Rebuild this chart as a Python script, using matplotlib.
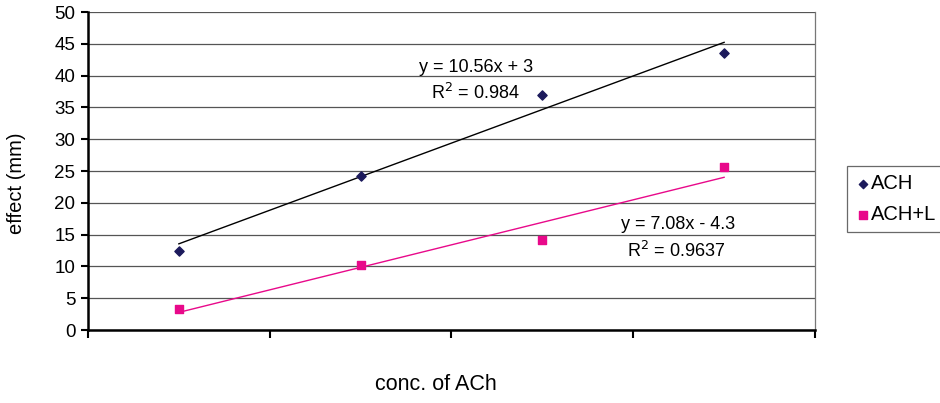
import numpy as np
import matplotlib
matplotlib.use("Agg")
import matplotlib.pyplot as plt

plt.rcParams["font.family"] = ["Liberation Sans", "DejaVu Sans"]

# data
conc = [1, 2, 3, 4]
ach = [12.5, 24.3, 37.0, 43.5]
ach_l = [3.3, 10.2, 14.2, 25.6]

# trendline coefficients shown on the chart
ach_fit = (10.56, 3.0, "0.984")
ach_l_fit = (7.08, -4.3, "0.9637")

navy = "#1c1a5c"
pink = "#e8098a"

fig = plt.figure(figsize=(9.4, 4.03), dpi=100)
ax = fig.add_axes([0.0936, 0.181, 0.7734, 0.789])

ax.set_ylim(0, 50)
ax.set_xlim(0.5, 4.5)
ax.set_yticks(np.arange(0, 51, 5))
ax.set_xticks([0.5, 1.5, 2.5, 3.5, 4.5])
ax.set_xticklabels([])
ax.grid(axis="y", color="#555555", linewidth=0.9)
ax.set_axisbelow(True)

ax.spines["top"].set_visible(False)
ax.spines["right"].set_color("#777777")
ax.spines["right"].set_linewidth(0.9)
ax.spines["left"].set_linewidth(1.8)
ax.spines["bottom"].set_linewidth(1.8)
ax.tick_params(axis="both", direction="out", length=5, width=1.5, labelsize=13.5, pad=4)
ax.tick_params(axis="x", length=6)

xs = np.array([conc[0], conc[-1]])
ax.plot(xs, ach_fit[0] * xs + ach_fit[1], color="black", linewidth=1)
ax.plot(xs, ach_l_fit[0] * xs + ach_l_fit[1], color=pink, linewidth=1)

ax.scatter(conc, ach, marker="D", s=22, color=navy, label="ACH", zorder=3)
ax.scatter(conc, ach_l, marker="s", s=36, color=pink, label="ACH+L", zorder=3)

ax.text(2.635, 41.3, "y = 10.56x + 3", ha="center", va="center", fontsize=13)
ax.text(2.63, 37.3, "R$^2$ = %s" % ach_fit[2], ha="center", va="center", fontsize=13)
ax.text(3.745, 16.6, "y = 7.08x - 4.3", ha="center", va="center", fontsize=13)
ax.text(3.735, 12.5, "R$^2$ = %s" % ach_l_fit[2], ha="center", va="center", fontsize=13)

fig.text(17 / 940, 1 - 183 / 403, "effect (mm)", rotation=90, ha="center", va="center", fontsize=14.5)
fig.text(436 / 940, 1 - 385 / 403, "conc. of ACh", ha="center", va="center", fontsize=15.5)

leg = ax.legend(loc="upper left", bbox_to_anchor=(1.0435, 0.515), fontsize=14.5,
                frameon=True, fancybox=False, edgecolor="#444444",
                handletextpad=0.0, handlelength=0.8, borderpad=0.4,
                labelspacing=0.6, markerscale=0.9, borderaxespad=0)
leg.get_frame().set_linewidth(0.9)

fig.savefig("out.png", dpi=100)
